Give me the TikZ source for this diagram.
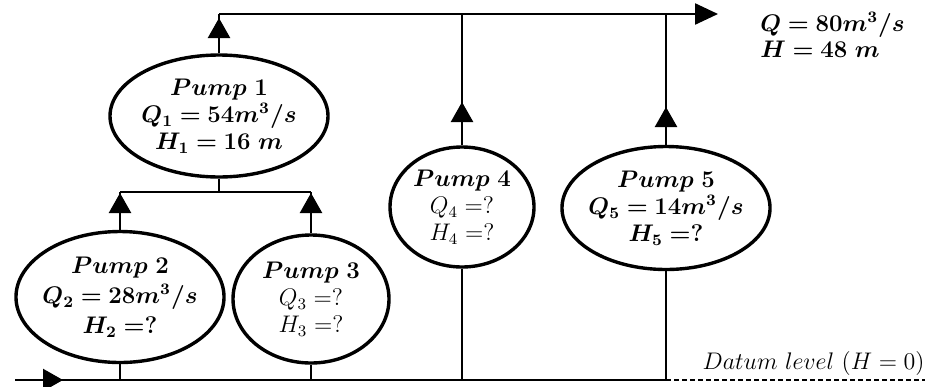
\documentclass[tikz,border=0pt]{standalone}
\usepackage{amsmath}
\usepackage{bm}
\usetikzlibrary{positioning, shapes, arrows.meta, decorations.markings}

\begin{document}
\begin{tikzpicture}[x=0.5pt, y=-0.5pt,
    pump/.style={ellipse, draw, line width=1.7pt, inner sep=-2pt, align=center,
      font=\fontsize{11.5}{13.5}\selectfont},
    pipe/.style={line width=1.2pt},
    flowtip/.style={decoration={markings,
        mark=at position #1 with {\arrow{Triangle[length=10pt,width=11pt]}}},
      postaction={decorate}}]
  \useasboundingbox (0,0) rectangle (929,386);

  % Pumps
  \node[pump, minimum width=109pt, minimum height=61pt] (p1) at (219,116)
    {$\bm{Pump\ 1}$\\ $\bm{Q_1 = 54m^3/s}$\\ $\bm{H_1 = 16\ m}$};
  \node[pump, minimum width=103.5pt, minimum height=65.5pt,
    font=\fontsize{11.5}{15}\selectfont] (p2) at (120,297)
    {$\bm{Pump\ 2}$\\ $\bm{Q_2 = 28m^3/s}$\\ $\bm{H_2 =?}$};
  \node[pump, minimum width=78pt, minimum height=64pt] (p3) at (311,299)
    {$\bm{Pump\ 3}$\\ $Q_3 =?$\\ $H_3 =?$};
  \node[pump, minimum width=72pt, minimum height=60pt] (p4) at (462,207)
    {$\bm{Pump\ 4}$\\ $Q_4 =?$\\ $H_4 =?$};
  \node[pump, minimum width=103.5pt, minimum height=61.5pt] (p5) at (666,208)
    {$\bm{Pump\ 5}$\\ $\bm{Q_5 = 14m^3/s}$\\ $\bm{H_5 =?}$};

  % Junctions on the pipes
  \coordinate (t1) at (219,14);
  \coordinate (t4) at (p4.north |- t1);
  \coordinate (t5) at (p5.north |- t1);
  \coordinate (tend) at (718,14);
  \coordinate (j1) at (219,192);
  \coordinate (j2) at (p2.north |- j1);
  \coordinate (j3) at (p3.north |- j1);
  \coordinate (b0) at (15,380);
  \coordinate (b2) at (p2.south |- b0);
  \coordinate (b3) at (p3.south |- b0);
  \coordinate (b4) at (p4.south |- b0);
  \coordinate (bend) at (p5.south |- b0);
  \coordinate (dend) at (925,380);

  % Delivery pipe
  \draw[pipe, -{Triangle[length=11.5pt,width=10.5pt]}] (t1) -- (tend);
  \draw[pipe, flowtip=-2pt] (p1.north) -- (t1);
  \draw[pipe, flowtip=-44pt] (p4.north) -- (t4);
  \draw[pipe, flowtip=-46.5pt] (p5.north) -- (t5);

  % Pumps 2 and 3 in parallel
  \draw[pipe] (p1.south) -- (j1);
  \draw[pipe] (j2) -- (j3);
  \draw[pipe, flowtip=-0.5pt] (p2.north) -- (j2);
  \draw[pipe, flowtip=-0.5pt] (p3.north) -- (j3);

  % Suction pipe
  \draw[pipe, flowtip=24pt] (b0) -- (bend);
  \foreach \b/\p in {b2/p2, b3/p3, b4/p4, bend/p5}
    \draw[pipe] (\p.south) -- (\b);
  \draw[line width=0.8pt, dash pattern=on 2.5pt off 1.5pt] (bend) -- (dend);

  % Labels
  \node[anchor=north west, align=left, inner sep=0pt,
    font=\fontsize{11.5}{13}\selectfont] (out) at (760,12)
    {$\bm{Q = 80m^3/s}$\\ $\bm{H = 48\ m}$};
  \node[anchor=south east, inner sep=0pt, font=\fontsize{11.5}{13}\selectfont]
    (datum) at (925,376) {$Datum\ level\ (H = 0)$};
\end{tikzpicture}
\end{document}
